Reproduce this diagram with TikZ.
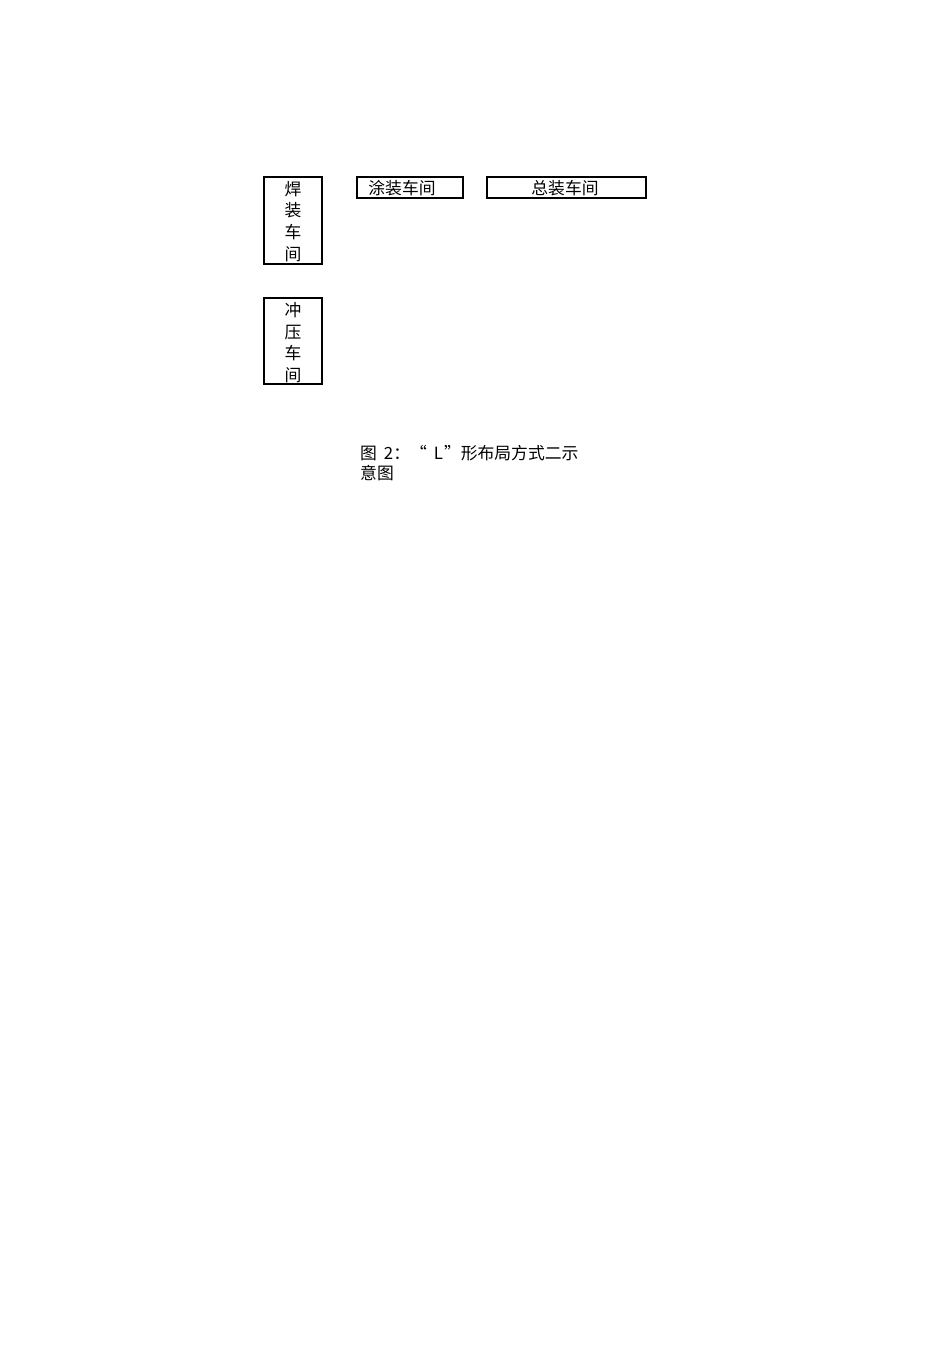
\documentclass[tikz,border=0pt]{standalone}
\usepackage{fontspec}
\setmainfont{Noto Sans CJK SC}
\begin{document}
\begin{tikzpicture}[x=1pt,y=-1pt,
  shop/.style={draw=black,line width=1.1pt,inner sep=0pt},
  lbl/.style={inner sep=0pt,font=\fontsize{16.8}{21.7}\selectfont,align=center},
  captxt/.style={inner sep=0pt,font=\fontsize{16.8}{20.5}\selectfont,align=left,anchor=north west}]
\useasboundingbox (0,0) rectangle (950,1345);
\fill[white] (0,0) rectangle (950,1345);
% welding shop (vertical)
\node[shop,minimum width=58pt,minimum height=87pt] (hz) at (293,220.5) {};
\node[lbl] (hzt) at (293,221.5) {焊\\装\\车\\间};
% stamping shop (vertical)
\node[shop,minimum width=58pt,minimum height=86pt] (cy) at (293,341) {};
\node[lbl] (cyt) at (293,342.5) {冲\\压\\车\\间};
% painting shop
\node[shop,minimum width=106pt,minimum height=21pt] (tz) at (410,187.5) {};
\node[lbl] (tzt) at (402,188) {涂装车间};
% assembly shop
\node[shop,minimum width=159pt,minimum height=21pt] (zz) at (566.5,187.5) {};
\node[lbl] (zzt) at (565,188) {总装车间};
% caption
\node[captxt] (capt) at (360,445) {图\hspace{7pt}2：“\hspace{7pt}L\hspace{1pt}”形布局方式二示\\意图};
\end{tikzpicture}
\end{document}
